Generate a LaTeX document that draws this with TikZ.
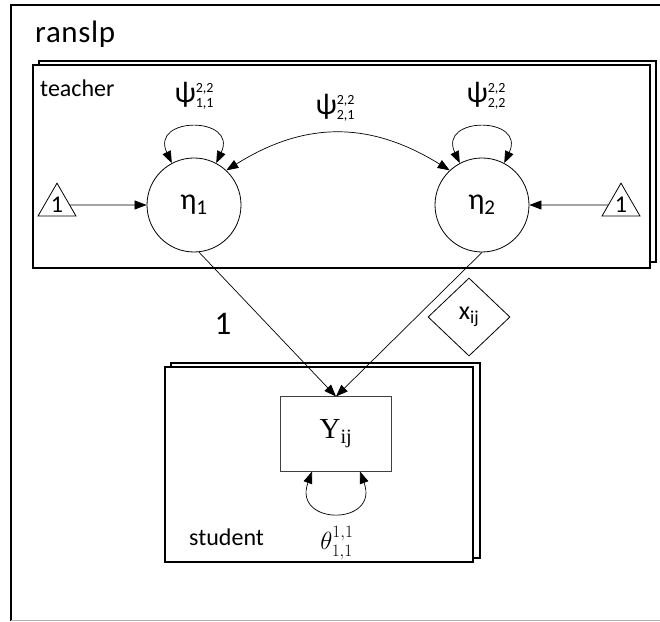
\documentclass[tikz,border=0pt]{standalone}
\usepackage{fontspec}
\usepackage{amsmath}
\setmainfont{Carlito}
\newfontfamily\serifY{Liberation Serif}
\usetikzlibrary{arrows.meta,shapes.geometric}
\newcommand{\mySS}[3]{#1{\fontsize{14}{14}\selectfont\rlap{\raisebox{10pt}{#2}}\raisebox{-5pt}{#3}}}
\begin{document}
\begin{tikzpicture}[x=1pt,y=1pt,
  plate/.style={draw, line width=1.4pt, fill=white},
  lat/.style={circle, draw, line width=0.8pt, minimum size=94pt, inner sep=0pt, font=\fontsize{30}{32}\selectfont},
  obs/.style={rectangle, draw=black!75, line width=1pt, minimum width=111pt, minimum height=74pt, inner sep=0pt},
  const/.style={regular polygon, regular polygon sides=3, draw, line width=0.8pt, minimum size=41.6pt, inner sep=0pt, font=\fontsize{24}{26}\selectfont},
  cov/.style={diamond, draw, line width=0.8pt, minimum width=82pt, minimum height=78pt, inner sep=0pt, font=\fontsize{26}{28}\selectfont},
  arr/.style={-{Triangle[length=12pt,width=9pt]}, line width=0.7pt},
  darr/.style={{Triangle[length=12pt,width=9pt]}-{Triangle[length=12pt,width=9pt]}, line width=0.7pt},
  lbl/.style={inner sep=0pt, font=\fontsize{24}{28}\selectfont},
]
\useasboundingbox (0,0) rectangle (660,621);
% outer frame
\draw[line width=1.5pt] (11,0) -- (11,616) -- (660,616);
\draw[black!30, line width=1pt] (11,1) -- (660,1);
\node[lbl, anchor=base west, font=\fontsize{31}{34}\selectfont\addfontfeatures{LetterSpace=2}] (title) at (35,578) {ranslp};
% teacher plate
\draw[plate] (39,359) rectangle (656,560);
\draw[plate] (33,353) rectangle (650,556);
\node[lbl, anchor=base west] (tlab) at (40,524) {teacher};
% student plate
\draw[plate] (171,63) rectangle (480,258);
\draw[plate] (165,59) rectangle (473,254);
\node[lbl, anchor=base west] (slab) at (189,76) {student};
% nodes
\node[lat] (e1) at (194,416) {η\textsubscript{1}};
\node[lat] (e2) at (482,416) {η\textsubscript{2}};
\node[const] (t1) at (57,416) {\raisebox{-3pt}{1}};
\node[const] (t2) at (621,416) {\raisebox{-3pt}{1}};
\node[obs, font=\serifY\fontsize{29}{32}\selectfont] (Y) at (336,187) {Y\textsubscript{ij}};
\node[cov] (x) at (469,304) {x\textsubscript{ij}};
% connectors
\draw[arr] (t1) -- (e1);
\draw[arr] (t2) -- (e2);
\draw[arr] (e1.-84) -- (Y.north);
\draw[arr] (e2.south) -- (Y.north);
\node[lbl, font=\fontsize{33}{36}\selectfont] (one) at (223,297) {1};
% variances
\draw[darr] (e1.118) .. controls +(115:52) and +(65:52) .. (e1.62);
\draw[darr] (e2.118) .. controls +(115:52) and +(65:52) .. (e2.62);
\draw[darr] (e1.47) .. controls (305,500) and (370,500) .. (e2.133);
\draw[darr] ([xshift=-24pt]Y.south) .. controls +(-110:58) and +(-70:58) .. ([xshift=24pt]Y.south);
\node[lbl, font=\fontsize{30}{33}\selectfont] (p11) at (194,525) {\mySS{ψ}{2,2}{1,1}};
\node[lbl, font=\fontsize{30}{33}\selectfont] (p22) at (486,525) {\mySS{ψ}{2,2}{2,2}};
\node[lbl, font=\fontsize{30}{33}\selectfont] (p21) at (335,513) {\mySS{ψ}{2,2}{2,1}};
\node[lbl, font=\fontsize{27}{30}\selectfont] (th) at (337,78) {$\theta^{1,1}_{1,1}$};
\end{tikzpicture}
\end{document}
